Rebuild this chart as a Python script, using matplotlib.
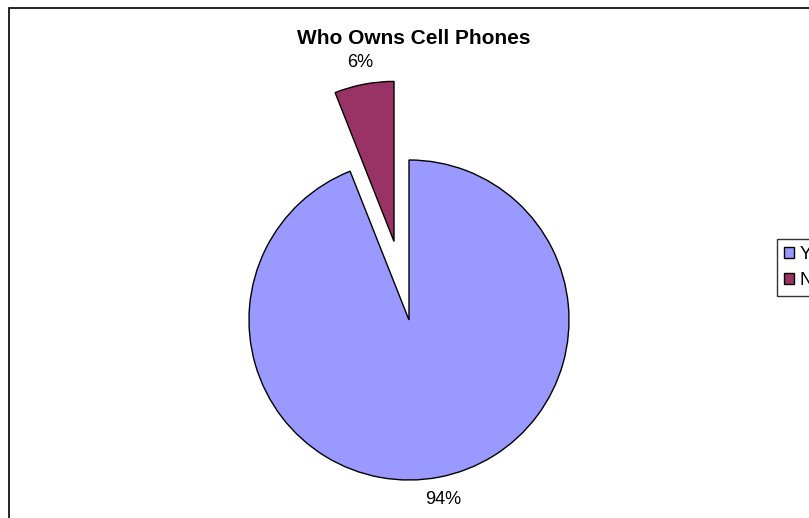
import matplotlib
matplotlib.use("Agg")
import matplotlib.pyplot as plt
from matplotlib.patches import Rectangle

plt.rcParams['font.family'] = ['Liberation Sans', 'DejaVu Sans']

# Survey answers
labels = ['Yes', 'No']
shares = [94, 6]
colors = ['#9999FF', '#993366']

W, H = 809, 518
R = 160
# pie explode is in data units here, so pull "No" out by half a radius
explode = [0, 0.5 * R]

fig = plt.figure(figsize=(W / 100, H / 100), dpi=100)
ax = fig.add_axes([0, 0, 1, 1])

# chart area border (runs off the right and bottom edges)
ax.add_patch(Rectangle((9, -20), W + 20, H - 8 + 20, fill=False,
                       edgecolor='black', linewidth=1.2))

wedges, texts, autotexts = ax.pie(
    shares, colors=colors, explode=explode, startangle=90, counterclock=False,
    center=(409, 198), radius=R, autopct='%d%%', pctdistance=1.14,
    wedgeprops=dict(edgecolor='black', linewidth=1.0),
    textprops=dict(fontsize=13, color='black'), frame=True)
ax.set_xlim(0, W)
ax.set_ylim(0, H)
ax.set_aspect('auto')
ax.axis('off')

ax.text(414, H - 38, 'Who Owns Cell Phones', ha='center', va='center',
        fontsize=15, fontweight='bold')

fig.legend(wedges, labels, loc='upper left',
           bbox_to_anchor=(777 / W, 1 - 239 / H), fontsize=13,
           frameon=True, fancybox=False, edgecolor='black',
           handlelength=0.55, handleheight=0.55, handletextpad=0.3,
           borderpad=0.4, labelspacing=0.5, borderaxespad=0)

fig.savefig('out.png', dpi=100)
